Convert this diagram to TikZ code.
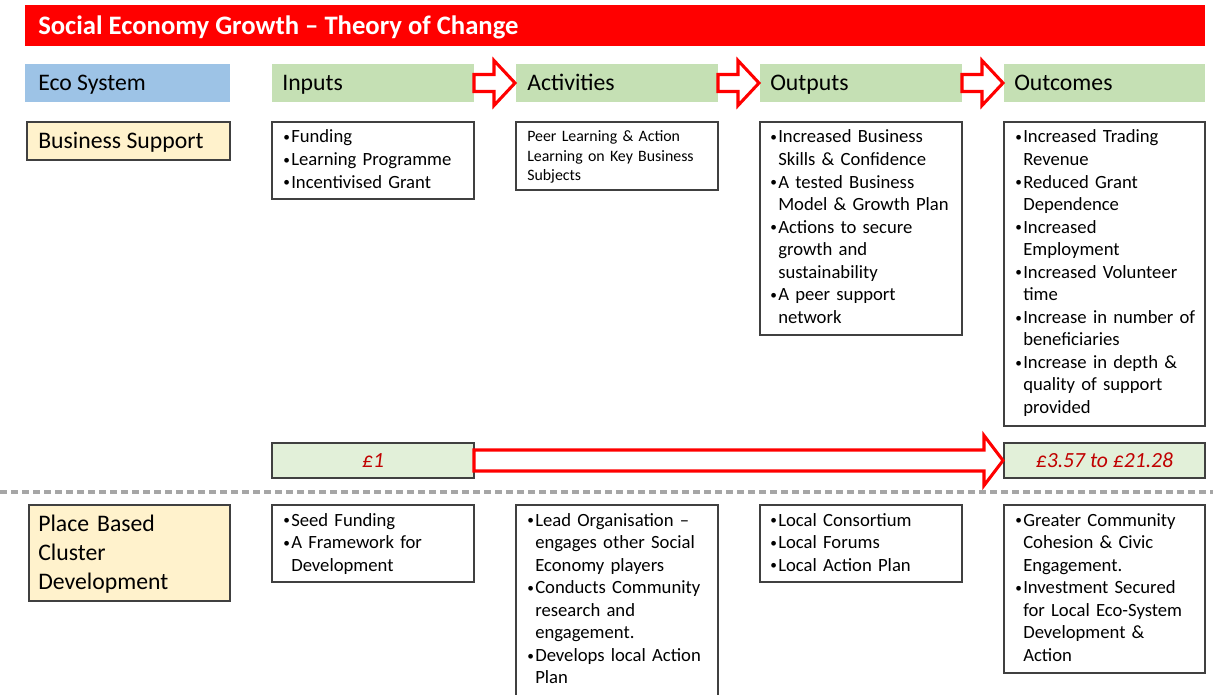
\documentclass[tikz,border=0pt]{standalone}
\usepackage{fontspec}
\setmainfont{Carlito}
\usetikzlibrary{fit,calc}

\definecolor{titlered}{HTML}{FF0000}
\definecolor{ecoblue}{HTML}{9DC3E6}
\definecolor{hdrgreen}{HTML}{C5E0B4}
\definecolor{paleyellow}{HTML}{FFF2CC}
\definecolor{palegreen}{HTML}{E2F0D9}
\definecolor{valuered}{HTML}{C00000}
\definecolor{rulegray}{HTML}{A6A6A6}
\definecolor{edge}{HTML}{404040}

% bullet items with hanging indent for continuation lines
\newcommand\smallbullet{\raisebox{0.9pt}{\fontsize{10pt}{10pt}\selectfont\textbullet}}
\newcommand\bfirst{\noindent\hangindent=6pt\hangafter=1\makebox[6pt][l]{\smallbullet}}
\newcommand\bitem{\par\bfirst}

% block arrow: from node, to node, shaft half-height, head half-height, head length
\newcommand\blockarrow[5]{%
  \draw[arrowline] ($(#1.east)+(0,-#3)$) -- ($(#2.west)+(-#5,-#3)$)
    -- ($(#2.west)+(-#5,-#4)$) -- ($(#2.west)+(-1,0)$) -- ($(#2.west)+(-#5,#4)$)
    -- ($(#2.west)+(-#5,#3)$) -- ($(#1.east)+(0,#3)$) -- cycle;}

\tikzset{
  area/.style={rectangle, inner sep=0pt, outer sep=0pt},
  band/.style={area, fill=titlered},
  ecohdr/.style={area, fill=ecoblue},
  hdr/.style={area, fill=hdrgreen},
  boxed/.style={area, draw=edge, line width=0.9pt, fill=white},
  yellowbox/.style={boxed, fill=paleyellow},
  valuebox/.style={boxed, fill=palegreen},
  titletxt/.style={inner sep=0pt, anchor=base west, text=white,
    font=\fontsize{20pt}{24pt}\selectfont\bfseries},
  hdrtxt/.style={inner sep=0pt, anchor=base west,
    font=\fontsize{17.8pt}{22.1pt}\selectfont},
  stacktxt/.style={inner sep=0pt, anchor=base west, text width=140pt,
    font=\fontsize{17.8pt}{22.1pt}\selectfont},
  bodytxt/.style={inner sep=0pt, anchor=base west, text width=142pt,
    font=\fontsize{14pt}{16.9pt}\selectfont},
  smalltxt/.style={inner sep=0pt, anchor=base west, text width=142pt,
    font=\fontsize{11.9pt}{14.3pt}\selectfont},
  valtxt/.style={inner sep=0pt, anchor=base, text=valuered,
    font=\fontsize{16.2pt}{19pt}\selectfont\itshape},
  arrowline/.style={draw=titlered, fill=white, line width=2.3pt, line join=miter},
  divider/.style={draw=rulegray, line width=3pt, dash pattern=on 5.25pt off 3pt}
}

\begin{document}
\begin{tikzpicture}[x=0.75pt, y=-0.75pt]
\clip (0,0) rectangle (1213,695);
\fill[white] (0,0) rectangle (1213,695);

% title band
\node[band, fit={(25,5)(1205,46)}] (title) {};
\node[titletxt] (title-t) at ([shift={(13,8.6)}]title.west) {Social Economy Growth – Theory of Change};

% column headers
\node[ecohdr, fit={(25,64)(230,102)}] (eco) {};
\node[hdrtxt] (eco-t) at ([shift={(13,7.6)}]eco.west) {Eco System};
\node[hdr, fit={(272,64)(474,102)}] (h-in) {};
\node[hdrtxt] (h-in-t) at ([shift={(10,7.6)}]h-in.west) {Inputs};
\node[hdr, fit={(516,64)(718,102)}] (h-act) {};
\node[hdrtxt] (h-act-t) at ([shift={(11,7.6)}]h-act.west) {Activities};
\node[hdr, fit={(760,64)(962,102)}] (h-out) {};
\node[hdrtxt] (h-out-t) at ([shift={(10,7.6)}]h-out.west) {Outputs};
\node[hdr, fit={(1004,64)(1205,102)}] (h-oc) {};
\node[hdrtxt] (h-oc-t) at ([shift={(10,7.6)}]h-oc.west) {Outcomes};

\blockarrow{h-in}{h-act}{8.5}{22.5}{22}
\blockarrow{h-act}{h-out}{8.5}{22.5}{22}
\blockarrow{h-out}{h-oc}{8.5}{22.5}{22}

% business support row
\node[yellowbox, fit={(27,122)(230,160)}] (bs) {};
\node[hdrtxt] (bs-t) at ([shift={(11,7.6)}]bs.west) {Business Support};

\node[boxed, fit={(272,122)(474,199)}] (bs-in) {};
\node[bodytxt] (bs-in-t) at ([shift={(11,21)}]bs-in.north west)
  {\bfirst Funding\bitem Learning Programme\bitem Incentivised Grant\par};

\node[boxed, fit={(516,122)(718,190)}] (bs-act) {};
\node[smalltxt] (bs-act-t) at ([shift={(11,20)}]bs-act.north west)
  {Peer Learning \& Action\newline Learning on Key Business\newline Subjects};

\node[boxed, fit={(760,122)(962,335)}] (bs-out) {};
\node[bodytxt] (bs-out-t) at ([shift={(10,21)}]bs-out.north west)
  {\bfirst Increased Business\newline Skills \& Confidence
   \bitem A tested Business\newline Model \& Growth Plan
   \bitem Actions to secure\newline growth and\newline sustainability
   \bitem A peer support\newline network\par};

\node[boxed, fit={(1004,122)(1205,426)}] (bs-oc) {};
\node[bodytxt] (bs-oc-t) at ([shift={(11,21)}]bs-oc.north west)
  {\bfirst Increased Trading\newline Revenue
   \bitem Reduced Grant\newline Dependence
   \bitem Increased\newline Employment
   \bitem Increased Volunteer\newline time
   \bitem Increase in number of\newline beneficiaries
   \bitem Increase in depth \&\newline quality of support\newline provided\par};

% return on investment
\node[valuebox, fit={(272,443)(474,478)}] (v-in) {};
\node[valtxt] (v-in-t) at ([shift={(0,7)}]v-in.center) {£1};
\node[valuebox, fit={(1004,443)(1205,478)}] (v-oc) {};
\node[valtxt] (v-oc-t) at ([shift={(0,7)}]v-oc.center) {£3.57 to £21.28};
\blockarrow{v-in}{v-oc}{10.5}{25}{20}

% divider
\coordinate (div-l) at (0,492);
\coordinate (div-r) at (1213,492);
\draw[divider] (div-l) -- (div-r);

% place based row
\node[yellowbox, fit={(29,505)(230,601)}] (pb) {};
\node[stacktxt] (pb-t) at ([shift={(9,26)}]pb.north west)
  {Place Based\newline Cluster\newline Development};

\node[boxed, fit={(272,505)(474,582)}] (pb-in) {};
\node[bodytxt] (pb-in-t) at ([shift={(11,21)}]pb-in.north west)
  {\bfirst Seed Funding\bitem A Framework for\newline Development\par};

\node[boxed, fit={(516,505)(718,710)}] (pb-act) {};
\node[bodytxt] (pb-act-t) at ([shift={(11,21)}]pb-act.north west)
  {\bfirst Lead Organisation –\newline engages other Social\newline Economy players
   \bitem Conducts Community\newline research and\newline engagement.
   \bitem Develops local Action\newline Plan\par};

\node[boxed, fit={(760,505)(962,582)}] (pb-out) {};
\node[bodytxt] (pb-out-t) at ([shift={(10,21)}]pb-out.north west)
  {\bfirst Local Consortium\bitem Local Forums\bitem Local Action Plan\par};

\node[boxed, fit={(1004,505)(1205,673)}] (pb-oc) {};
\node[bodytxt] (pb-oc-t) at ([shift={(11,21)}]pb-oc.north west)
  {\bfirst Greater Community\newline Cohesion \& Civic\newline Engagement.
   \bitem Investment Secured\newline for Local Eco-System\newline Development \&\newline Action\par};
\end{tikzpicture}
\end{document}
